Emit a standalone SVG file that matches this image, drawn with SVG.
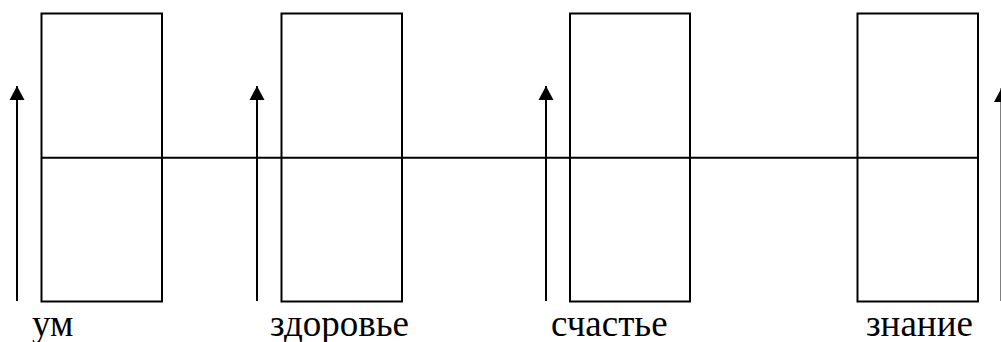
<svg xmlns="http://www.w3.org/2000/svg" width="1001" height="342" viewBox="0 0 1001 342">
  <style>
    .box { fill: none; stroke: #000; stroke-width: 2; }
    .ln { stroke: #000; stroke-width: 2; fill: none; }
    .lbl { font-family: 'Liberation Serif', 'Times New Roman', serif; font-size: 37px; fill: #000; }
  </style>
  <defs>
    <marker id="ah" markerUnits="userSpaceOnUse" markerWidth="16" markerHeight="16" viewBox="0 0 16 16" refX="14" refY="8" orient="auto">
      <path d="M0,0.5 L14,8 L0,15.5 Z" fill="#000"/>
    </marker>
  </defs>
  <rect width="1001" height="342" fill="#fff"/>
  <g id="connectors">
    <line class="ln" x1="41.5" y1="157.7" x2="978" y2="157.7"/>
    <line class="ln" x1="17" y1="301" x2="17" y2="86" marker-end="url(#ah)"/>
    <line class="ln" x1="257" y1="301" x2="257" y2="86" marker-end="url(#ah)"/>
    <line class="ln" x1="546" y1="301" x2="546" y2="86" marker-end="url(#ah)"/>
    <line class="ln" x1="1001.5" y1="301" x2="1001.5" y2="88" marker-end="url(#ah)"/>
  </g>
  <g id="node-um">
    <rect class="box" x="41.5" y="13.5" width="120.5" height="288"/>
    <text class="lbl" x="32" y="336">ум</text>
  </g>
  <g id="node-zdorovie">
    <rect class="box" x="281.5" y="13.5" width="120.5" height="288"/>
    <text class="lbl" x="270" y="336">здоровье</text>
  </g>
  <g id="node-schastie">
    <rect class="box" x="570" y="13.5" width="120" height="288"/>
    <text class="lbl" x="551" y="336">счастье</text>
  </g>
  <g id="node-znanie">
    <rect class="box" x="857.5" y="13.5" width="120.5" height="288"/>
    <text class="lbl" x="866" y="336">знание</text>
  </g>
</svg>
